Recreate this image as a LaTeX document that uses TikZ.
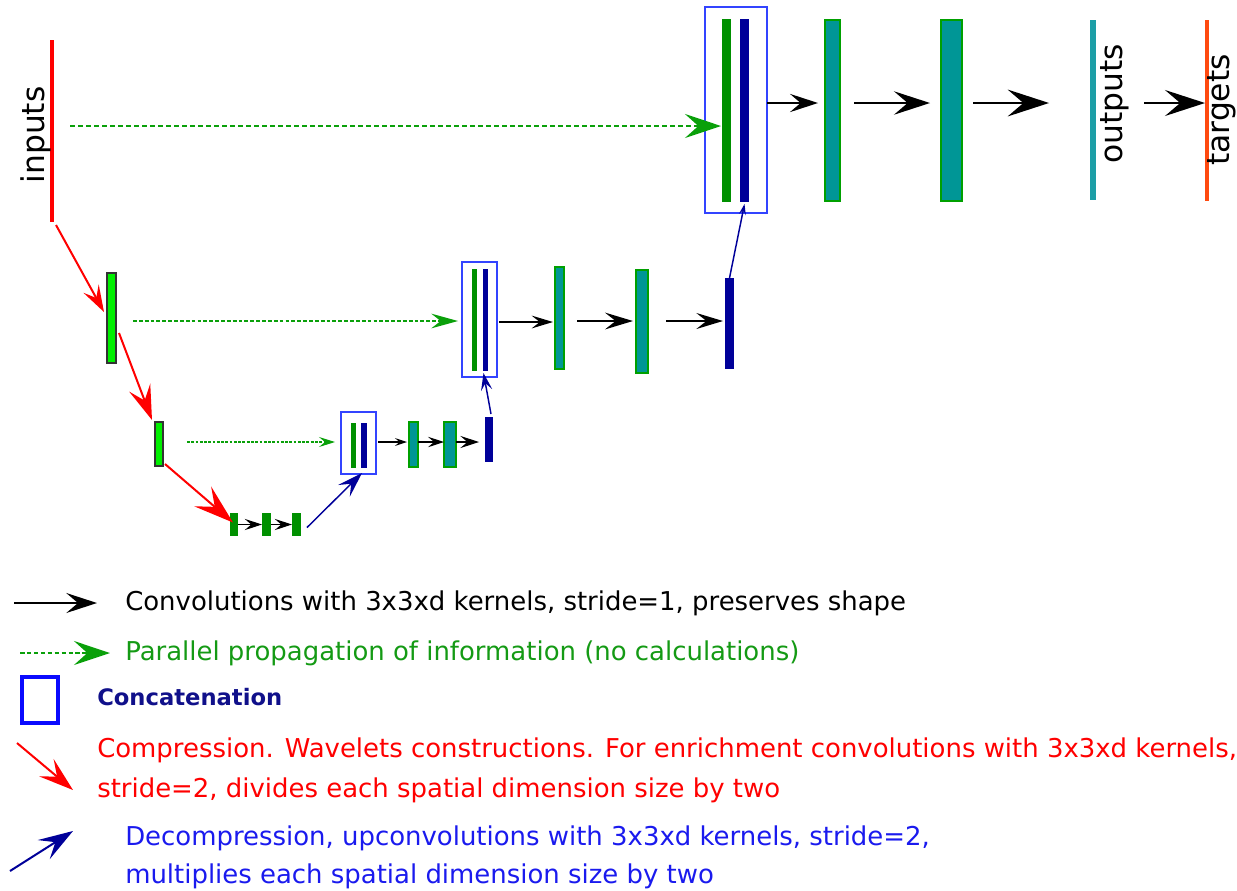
\documentclass[tikz,border=0pt]{standalone}
\usepackage{fontspec}
\setmainfont{DejaVu Sans}
\usetikzlibrary{arrows.meta,calc}
\definecolor{cred}{HTML}{FF0000}
\definecolor{cbright}{HTML}{00F000}
\definecolor{cdgreen}{HTML}{009000}
\definecolor{cnavy}{HTML}{000099}
\definecolor{cteal}{HTML}{009696}
\definecolor{ctealbd}{HTML}{00A000}
\definecolor{cbox}{HTML}{3344FF}
\definecolor{cout}{HTML}{1C9EA6}
\definecolor{ctgt}{HTML}{FF4A10}
\definecolor{cdash}{HTML}{0AA00A}
\definecolor{cgtext}{HTML}{149A14}
\definecolor{cbtext}{HTML}{1A1AEE}
\definecolor{cctext}{HTML}{10108A}
\definecolor{clegsq}{HTML}{0A0AFF}
\newcommand{\legfont}{\fontsize{19.45}{30}\selectfont}
\newcommand{\labfont}{\fontsize{23.5}{28}\selectfont}
\begin{document}
\begin{tikzpicture}[x=0.75pt,y=-0.75pt,
  bar/.style 2 args={rectangle, inner sep=0pt, outer sep=0pt,
     minimum width=#1*0.75pt, minimum height=#2*0.75pt},
  barred/.style={fill=cred},
  barbright/.style={fill=cbright, draw=black!80, line width=0.8pt},
  bardg/.style={fill=cdgreen},
  barnavy/.style={fill=cnavy},
  barteal/.style={fill=cteal, draw=ctealbd, line width=1.1pt},
  catbox/.style={rectangle, draw=cbox, line width=1.1pt, inner sep=0pt, outer sep=0pt},
  lab/.style={font=\labfont, rotate=90, inner sep=0pt},
  legtext/.style={anchor=west, inner sep=0pt, font=\legfont, align=left},
  convbig/.style={draw=black, line width=1.5pt, -{Stealth[length=#1pt, width=0.65*#1pt, inset=0.38*#1pt]}},
  convmid/.style={draw=black, line width=1.1pt, -{Stealth[length=#1pt, width=0.6*#1pt, inset=0.38*#1pt]}},
  convsml/.style={draw=black, line width=0.8pt, -{Stealth[length=#1pt, width=0.65*#1pt, inset=0.38*#1pt]}},
  par/.style={draw=cdash, line width=#1pt, dash pattern=on 2.6*#1pt off 1.4*#1pt},
  comp/.style={draw=cred, line width=1.5pt, -{Stealth[length=#1pt, width=0.65*#1pt, inset=0.4*#1pt]}},
  decomp/.style={draw=cnavy, line width=1.1pt, -{Stealth[length=#1pt, width=0.65*#1pt, inset=0.4*#1pt]}}
]
\useasboundingbox (0,0) rectangle (1237,890);

% ---------- top level ----------
\node[bar={4}{182}, barred] (in) at (52,131) {};
\node[lab] (inlab) at (36,135) {inputs};
\node[catbox, minimum width=62*0.75pt, minimum height=206*0.75pt] (box1) at (736,110) {};
\node[bar={9}{183}, bardg] (g1) at (726.5,110.5) {};
\node[bar={9}{183}, barnavy] (n1) at (744.5,110.5) {};
\node[bar={15}{181}, barteal] (t1a) at (832.5,110.5) {};
\node[bar={21}{181}, barteal] (t1b) at (951.5,110.5) {};
\node[bar={6}{180}, fill=cout] (out) at (1093,110) {};
\node[lab] (outlab) at (1115,104) {outputs};
\node[bar={4}{181}, fill=ctgt] (tgt) at (1207,110.5) {};
\node[lab] (tgtlab) at (1222,110) {targets};

\draw[convbig=21] ($(box1.east)+(0,-7)$) -- ($(t1a.west)+(-7,-7.5)$);
\draw[convbig=27] ($(t1a.east)+(14,-7.5)$) -- ($(t1b.west)+(-11,-7.5)$);
\draw[convbig=31] ($(t1b.east)+(11,-7.5)$) -- ($(out.west)+(-41,-7)$);
\draw[convbig=30] ($(out.east)+(48,-7)$) -- ($(tgt.west)+(0,-7.5)$);
\draw[par=1.5, -{Stealth[length=27pt, width=18pt, inset=10pt]}]
   ($(in.east)+(16,-5)$) -- ($(g1.west)+(-1,15.5)$);

% ---------- level 1 ----------
\node[bar={9}{90}, barbright] (e1) at (111.5,318) {};
\node[catbox, minimum width=35*0.75pt, minimum height=115*0.75pt] (box2) at (479.5,319.5) {};
\node[bar={5}{102}, bardg] (g2) at (474.5,320) {};
\node[bar={5}{102}, barnavy] (n2) at (485.5,320) {};
\node[bar={9}{102}, barteal] (t2a) at (559.5,318) {};
\node[bar={12}{103}, barteal] (t2b) at (642,321.5) {};
\node[bar={9}{91}, barnavy] (n2b) at (729.5,323.5) {};

\draw[comp=20] ($(in.south)+(4,3)$) -- ($(e1.west)+(-3,-6)$);
\draw[par=1.1, -{Stealth[length=20pt, width=11pt, inset=7pt]}]
   ($(e1.east)+(17,3)$) -- ($(g2.west)+(-14,1)$);
\draw[convmid=16] ($(box2.east)+(2,2.5)$) -- ($(t2a.west)+(-2,4)$);
\draw[convmid=21] ($(t2a.east)+(13,3)$) -- ($(t2b.west)+(-3,-0.5)$);
\draw[convmid=20] ($(t2b.east)+(18,-0.5)$) -- ($(n2b.west)+(-2,-2.5)$);
\draw[decomp=8] (n2b.north) -- ($(n1.south)+(0,2)$);

% ---------- level 2 ----------
\node[bar={8}{44}, barbright] (e2) at (159,444) {};
\node[catbox, minimum width=35*0.75pt, minimum height=62*0.75pt] (box3) at (358.5,443) {};
\node[bar={5}{45}, bardg] (g3) at (353.5,445.5) {};
\node[bar={6}{45}, barnavy] (n3) at (364,445.5) {};
\node[bar={9}{45}, barteal] (t3a) at (413.5,444.5) {};
\node[bar={12}{45}, barteal] (t3b) at (450,444.5) {};
\node[bar={8}{45}, barnavy] (n3b) at (489,439.5) {};

\draw[comp=26] ($(e1.east)+(3,15)$) -- ($(e2.north west)+(-3,-2)$);
\draw[par=0.8, -{Stealth[length=12pt, width=7.5pt, inset=4.5pt]}]
   ($(e2.east)+(24,-2)$) -- ($(box3.west)+(-6,-1)$);
\draw[convsml=9] ($(box3.east)+(2,-1)$) -- ($(t3a.west)+(-2,-2.5)$);
\draw[convsml=12] ($(t3a.east)+(0,-2.5)$) -- ($(t3b.west)+(0,-2.5)$);
\draw[convsml=14] ($(t3b.east)+(0,-2.5)$) -- ($(n3b.west)+(-6,2.5)$);
\draw[decomp=13] ($(n3b.north)+(2,-3)$) -- ($(n2.south)+(-2,2)$);

% ---------- level 3 ----------
\node[bar={8}{23}, bardg] (b1) at (234,524.5) {};
\node[bar={9}{23}, bardg] (b2) at (266.5,524.5) {};
\node[bar={9}{23}, bardg] (b3) at (296.5,524.5) {};

\draw[comp=30] ($(e2.south east)+(2,-2)$) -- ($(b1.west)+(3,-2)$);
\draw[convsml=13] (b1.east) -- (b2.west);
\draw[convsml=13] (b2.east) -- (b3.west);
\draw[decomp=19] ($(b3.east)+(6,3)$) -- ($(n3.south)+(-2,5)$);

% ---------- legend ----------
\coordinate (lca) at (14,603);
\coordinate (lcb) at (97,603);
\draw[convbig=23] (lca) -- (lcb);
\node[legtext] (lct) at (125,603) {Convolutions with 3x3xd kernels, stride=1, preserves shape};

\coordinate (lpa) at (20,653);
\coordinate (lpb) at (110,653);
\draw[par=1.3, -{Stealth[length=27pt, width=18pt, inset=10pt]}] (lpa) -- (lpb);
\node[legtext, text=cgtext] (lpt) at (125,653) {Parallel propagation of information (no calculations)};

\node[rectangle, draw=clegsq, line width=3pt, minimum width=27pt, minimum height=34.5pt, inner sep=0pt] (lsq) at (40,700) {};
\node[legtext, text=cctext, font=\fontsize{17}{20}\selectfont\bfseries] (lst) at (97,697) {Concatenation};

\coordinate (lra) at (17,743);
\coordinate (lrb) at (73,790);
\draw[comp=26] (lra) -- (lrb);
\node[legtext, text=cred] (lrt) at (97,770) {Compression. Wavelets constructions. For enrichment convolutions with 3x3xd kernels,\\stride=2, divides each spatial dimension size by two};

\coordinate (lba) at (10,871);
\coordinate (lbb) at (73,831);
\draw[decomp=26, line width=1.5pt] (lba) -- (lbb);
\node[legtext, text=cbtext, font=\fontsize{19.45}{28.5}\selectfont] (lbt) at (125,857) {Decompression, upconvolutions with 3x3xd kernels, stride=2,\\multiplies each spatial dimension size by two};
\end{tikzpicture}
\end{document}
